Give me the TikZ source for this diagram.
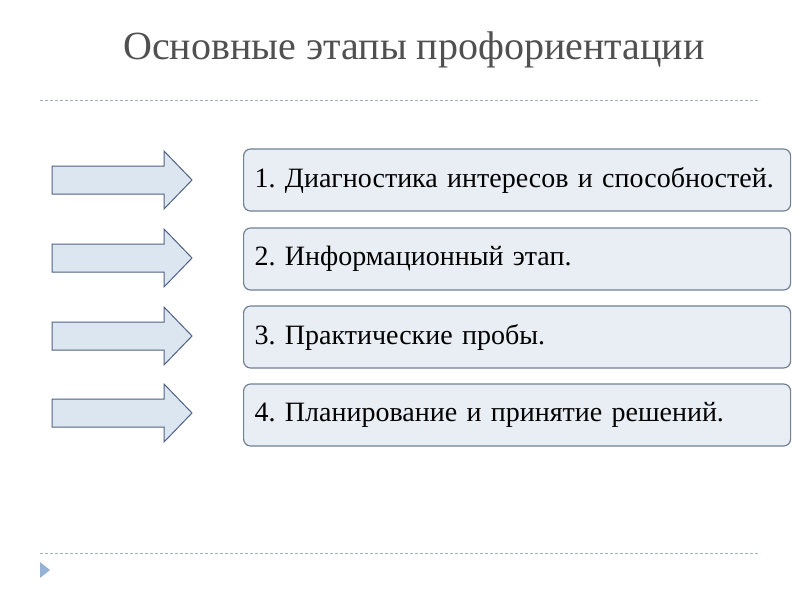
\documentclass[tikz,border=0pt]{standalone}
\usepackage{fontspec}
\setmainfont{Liberation Serif}
\frenchspacing
\usetikzlibrary{positioning}
\definecolor{colorT}{RGB}{80,80,80}
\definecolor{colorL}{RGB}{160,175,190}
\definecolor{colorM}{RGB}{149,179,215}
\definecolor{colorA}{RGB}{220,230,241}
\definecolor{colorAE}{RGB}{80,97,133}
\definecolor{colorS}{RGB}{233,238,244}
\definecolor{colorSE}{RGB}{112,128,150}
\tikzset{
  dashline/.style={draw=colorL, dashed, dash pattern=on 3pt off 2pt, line width=0.8pt},
  pointer/.style={draw=colorAE, fill=colorA, line width=1pt},
  stage/.style={draw=colorSE, fill=colorS, line width=1.2pt, rounded corners=7pt,
    minimum width=547pt, minimum height=62pt, anchor=west, inner xsep=11pt,
    text width=525pt, align=left, font=\fontsize{28pt}{32pt}\selectfont}
}
\begin{document}
\begin{tikzpicture}[x=1pt,y=-1pt]
\useasboundingbox (0,0) rectangle (800,600);

\node[colorT, font=\fontsize{40pt}{46pt}\selectfont] (title) at (414,50) {Основные этапы профориентации};
\coordinate (topL) at (40,100);
\coordinate (topR) at (760,100);
\coordinate (botL) at (40,553);
\coordinate (botR) at (760,553);
\draw[dashline] (topL) -- (topR);
\draw[dashline] (botL) -- (botR);
\fill[colorM] (40,562) -- (50,570) -- (40,578) -- cycle;

\node[stage] (s1) at (243,180) {1. Диагностика интересов и способностей.};
\node[stage] (s2) at (243,259) {2. Информационный этап.};
\node[stage] (s3) at (243,337) {3. Практические пробы.};
\node[stage] (s4) at (243,415) {4. Планирование и принятие решений.};

\foreach \i/\y in {1/180,2/258,3/336,4/413}
  \draw[pointer] (52,\y-14) -- (164,\y-14) -- (164,\y-29) -- (192,\y)
    -- (164,\y+29) -- (164,\y+14) -- (52,\y+14) -- cycle;

\end{tikzpicture}
\end{document}
